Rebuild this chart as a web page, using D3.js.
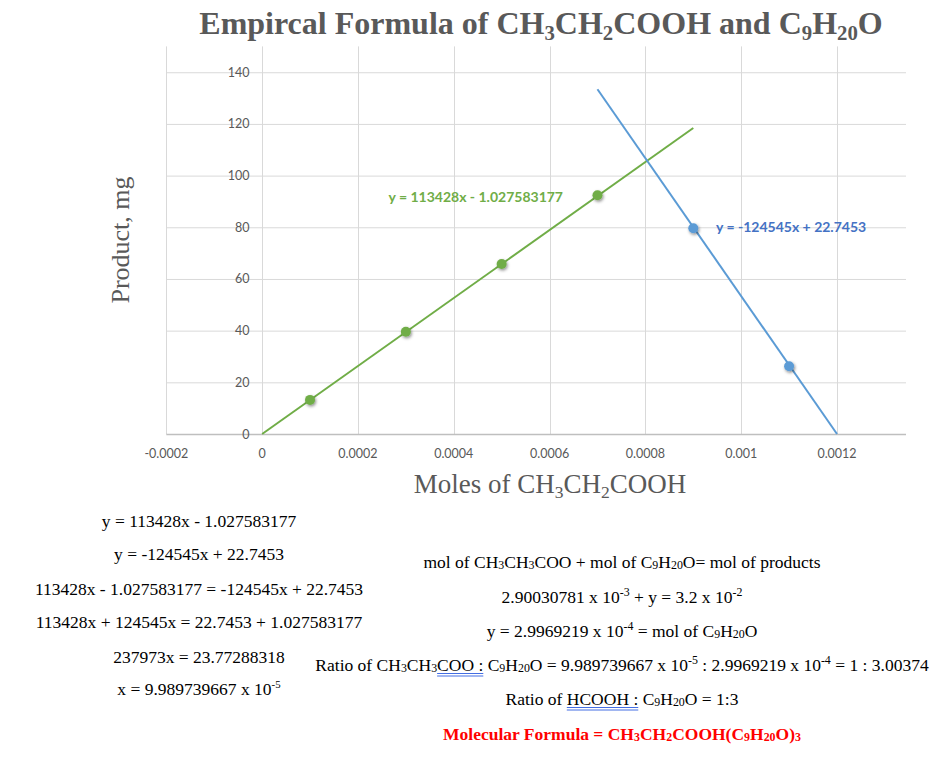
<!DOCTYPE html>
<html><head><meta charset="utf-8">
<script src="https://cdn.jsdelivr.net/npm/d3@7"></script>
<style>body{margin:0;background:#fff}</style>
</head><body>
<svg id="c" width="937" height="766" xmlns="http://www.w3.org/2000/svg"></svg>
<script>
// ---- data ----
const xTicks = [-0.0002, 0, 0.0002, 0.0004, 0.0006, 0.0008, 0.001, 0.0012];
const xTickLabels = ["-0.0002", "0", "0.0002", "0.0004", "0.0006", "0.0008", "0.001", "0.0012"];
const yTicks = [0, 20, 40, 60, 80, 100, 120, 140];
const greenX = [0.0001, 0.0003, 0.0005, 0.0007];
const greenY = [13.2, 39.6, 65.8, 92.4];
const blueX = [0.0009, 0.0011];
const blueY = [79.6, 26.2];
const greenTrendX = [0, 0.0009];
const greenTrendY = [0, 118.4];
const blueTrendX = [0.0007, 0.0012];
const blueTrendY = [133.4, 0];
const greenEq = "y = 113428x - 1.027583177";
const blueEq = "y = -124545x + 22.7453";
const titleText = "Empircal Formula of CH_3CH_2COOH and C_9H_{20}O";
const xTitle = "Moles of CH_3CH_2COOH";
const yTitle = "Product, mg";
const leftLines = [
  "y = 113428x - 1.027583177",
  "y = -124545x + 22.7453",
  "113428x - 1.027583177 = -124545x + 22.7453",
  "113428x + 124545x = 22.7453 + 1.027583177",
  "237973x = 23.77288318",
  "x = 9.989739667 x 10^{-5}"
];
const rightLines = [
  "mol of CH_3CH_3COO + mol of C_9H_{20}O= mol of products",
  "2.90030781 x 10^{-3} + y = 3.2 x 10^{-2}",
  "y = 2.9969219 x 10^{-4} = mol of C_9H_{20}O",
  "Ratio of CH_3CH_3[u]COO :[/u] C_9H_{20}O = 9.989739667 x 10^{-5} : 2.9969219 x 10^{-4} = 1 : 3.00374",
  "Ratio of [u]HCOOH :[/u] C_9H_{20}O = 1:3"
];
const formulaLine = "Molecular Formula = CH_3CH_2COOH(C_9H_{20}O)_3";

// ---- chart ----
const svg = d3.select("#c");
const x = d3.scaleLinear().domain([-0.0002, 0.001344]).range([166.3, 906]);
const y = d3.scaleLinear().domain([0, 150]).range([434, 46.4]);
const GREEN = "#70AD47", BLUE = "#5B9BD5", GRAY = "#595959";

const defs = svg.append("defs");
const f = defs.append("filter").attr("id", "sh").attr("x", "-50%").attr("y", "-50%").attr("width", "200%").attr("height", "200%");
f.append("feDropShadow").attr("dx", 1).attr("dy", 1.5).attr("stdDeviation", 1.5).attr("flood-color", "#000").attr("flood-opacity", 0.45);

// gridlines
svg.append("g").selectAll("line").data(yTicks.filter(d => d > 0)).join("line")
  .attr("x1", x.range()[0]).attr("x2", x.range()[1])
  .attr("y1", d => y(d) + 0.5).attr("y2", d => y(d) + 0.5)
  .attr("stroke", "#D9D9D9").attr("stroke-width", 1);
svg.append("g").selectAll("line").data(xTicks).join("line")
  .attr("x1", d => Math.round(x(d)) + 0.5).attr("x2", d => Math.round(x(d)) + 0.5)
  .attr("y1", y(150)).attr("y2", y(0))
  .attr("stroke", "#D9D9D9").attr("stroke-width", 1);
// x axis line
svg.append("line").attr("x1", x.range()[0]).attr("x2", x.range()[1])
  .attr("y1", y(0) + 0.5).attr("y2", y(0) + 0.5).attr("stroke", "#BFBFBF").attr("stroke-width", 1.3);

// tick labels
svg.append("g").selectAll("text").data(yTicks).join("text")
  .attr("x", 249.5).attr("y", d => y(d)).attr("dy", "0.36em")
  .attr("text-anchor", "end").attr("font-family", "Lato, 'Open Sans', sans-serif")
  .attr("font-size", 12.5).attr("fill", GRAY).text(d => d);
svg.append("g").selectAll("text").data(xTicks).join("text")
  .attr("x", d => x(d)).attr("y", 458)
  .attr("text-anchor", "middle").attr("font-family", "Lato, 'Open Sans', sans-serif")
  .attr("font-size", 12.5).attr("fill", GRAY).text((d, i) => xTickLabels[i]);

// trend lines
const line = d3.line().x(d => x(d[0])).y(d => y(d[1]));
svg.append("path").attr("d", line(d3.zip(greenTrendX, greenTrendY)))
  .attr("stroke", GREEN).attr("stroke-width", 2).attr("fill", "none");
svg.append("path").attr("d", line(d3.zip(blueTrendX, blueTrendY)))
  .attr("stroke", BLUE).attr("stroke-width", 2).attr("fill", "none");

// markers
svg.append("g").selectAll("circle").data(d3.zip(greenX, greenY)).join("circle")
  .attr("cx", d => x(d[0])).attr("cy", d => y(d[1])).attr("r", 5)
  .attr("fill", GREEN).attr("filter", "url(#sh)");
svg.append("g").selectAll("circle").data(d3.zip(blueX, blueY)).join("circle")
  .attr("cx", d => x(d[0])).attr("cy", d => y(d[1])).attr("r", 5)
  .attr("fill", BLUE).attr("filter", "url(#sh)");

// equation labels
svg.append("text").attr("x", 563).attr("y", 197).attr("dy", "0.36em").attr("text-anchor", "end")
  .attr("font-family", "Lato, sans-serif").attr("font-weight", "bold").attr("font-size", 14)
  .attr("fill", GREEN).text(greenEq);
svg.append("text").attr("x", 716).attr("y", 227).attr("dy", "0.36em").attr("text-anchor", "start")
  .attr("font-family", "Lato, sans-serif").attr("font-weight", "bold").attr("font-size", 14)
  .attr("fill", "#4472C4").text(blueEq);

// ---- rich text helper ----
function parse(str) {
  const parts = [];
  const re = /(_\{[^}]*\}|\^\{[^}]*\}|_.|\^.|\[u\]|\[\/u\])/g;
  let last = 0, m, u = false;
  while ((m = re.exec(str)) !== null) {
    if (m.index > last) parts.push({ t: str.slice(last, m.index), k: "n", u });
    const tok = m[0];
    if (tok === "[u]") u = true;
    else if (tok === "[/u]") u = false;
    else {
      const k = tok[0] === "_" ? "sub" : "sup";
      const t = tok[1] === "{" ? tok.slice(2, -1) : tok.slice(1);
      parts.push({ t, k, u });
    }
    last = re.lastIndex;
  }
  if (last < str.length) parts.push({ t: str.slice(last), k: "n", u });
  return parts;
}
function rich(px, py, str, opts) {
  const size = opts.size, sc = opts.scale || 0.65;
  const subShift = opts.subShift != null ? opts.subShift : 0.18;
  const supShift = opts.supShift != null ? opts.supShift : 0.38;
  const t = svg.append("text").attr("x", px).attr("y", py)
    .attr("text-anchor", opts.anchor || "middle")
    .attr("font-family", opts.family).attr("font-size", size)
    .attr("font-weight", opts.weight || "normal").attr("fill", opts.fill);
  if (opts.rotate) t.attr("transform", `rotate(${opts.rotate},${px},${py})`);
  let cur = 0, idx = 0;
  const ul = [];
  parse(str).forEach(p => {
    let target = 0, fs = size;
    if (p.k === "sub") { target = subShift * size; fs = size * sc; }
    if (p.k === "sup") { target = -supShift * size; fs = size * sc; }
    t.append("tspan").attr("dy", target - cur).attr("font-size", fs).text(p.t);
    cur = target;
    if (p.u) ul.push([idx, p.t.length]);
    idx += p.t.length;
  });
  const node = t.node();
  if (ul.length) {
    const s = ul[0][0];
    const e = ul[ul.length - 1][0] + ul[ul.length - 1][1] - 1;
    const x0 = node.getStartPositionOfChar(s).x;
    const x1 = node.getEndPositionOfChar(e).x;
    [2.5, 5].forEach(off => {
      svg.append("line").attr("x1", x0).attr("x2", x1).attr("y1", py + off).attr("y2", py + off)
        .attr("stroke", "#2F5DE0").attr("stroke-width", 0.9);
    });
  }
  return t;
}

// title
rich(541, 34, titleText, { size: 32, family: "'Liberation Serif', 'Times New Roman', serif", weight: "bold", fill: GRAY, subShift: 0.2 });
// axis titles
rich(550, 493, xTitle, { size: 27, family: "'Liberation Serif', 'Times New Roman', serif", fill: GRAY, subShift: 0.2 });
rich(129, 240, yTitle, { size: 26, family: "'Liberation Serif', 'Times New Roman', serif", fill: GRAY, rotate: -90 });

// bottom workings
const serif = "'Liberation Serif', 'Times New Roman', serif";
const leftY = [527, 560, 595, 628, 663, 695];
leftLines.forEach((s, i) => rich(199, leftY[i], s, { size: 17.5, family: serif, fill: "#000", scale: 0.62, supShift: 0.4 }));
const rightY = [568, 603, 637, 671, 705];
rightLines.forEach((s, i) => rich(622, rightY[i], s, { size: 17.5, family: serif, fill: "#000", scale: 0.68, subShift: 0.06, supShift: 0.38 }));
rich(622, 740, formulaLine, { size: 17.5, family: serif, weight: "bold", fill: "#FF0000", scale: 0.68, subShift: 0.08 });
</script>
</body></html>
